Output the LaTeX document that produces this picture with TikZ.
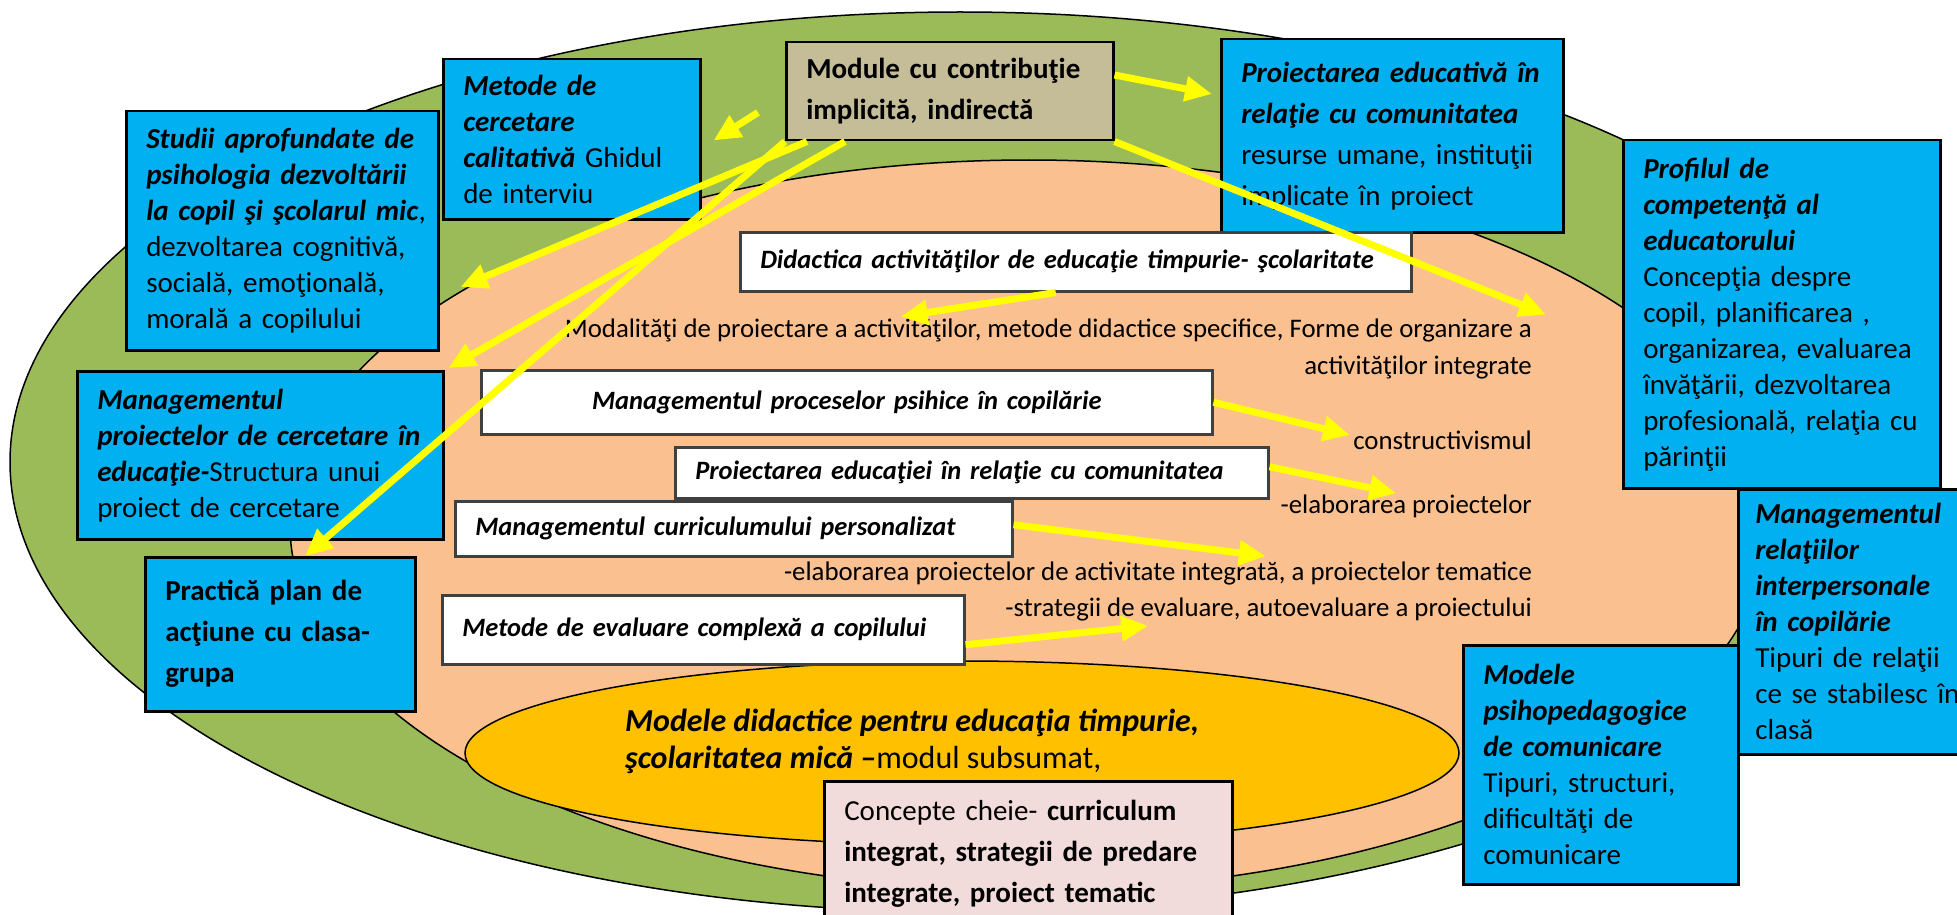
\documentclass[tikz,border=0pt]{standalone}
\usepackage{fontspec}
\setmainfont{Carlito}
\usetikzlibrary{calc}
\usetikzlibrary{arrows.meta}

\definecolor{outergreen}{HTML}{9BBB59}
\definecolor{innerorange}{HTML}{FAC090}
\definecolor{coreyellow}{HTML}{FFC000}
\definecolor{boxblue}{HTML}{00B0F0}
\definecolor{boxtan}{HTML}{C4BD97}
\definecolor{boxpink}{HTML}{F2DCDB}
\definecolor{boxgray}{HTML}{404040}
\definecolor{arrowyellow}{HTML}{FFFF00}

\newcommand{\bfit}[1]{\textbf{\textit{#1}}}

\tikzset{
  bluebox/.style={draw=black, line width=2.5pt, fill=boxblue, anchor=north west, align=left,
    inner xsep=20pt, inner ysep=0pt, font=\fontsize{29}{36}\selectfont},
  widebox/.style={bluebox, font=\fontsize{29}{41}\selectfont},
  whitebox/.style={draw=boxgray, line width=2.5pt, fill=white, anchor=north west, align=left,
    inner xsep=20pt, inner ysep=0pt, font=\fontsize{26.5}{33}\selectfont\bfseries\itshape},
  freetext/.style={anchor=east, align=right, inner sep=0pt, font=\fontsize{26.8}{37}\selectfont},
  yarrow/.style={draw=arrowyellow, line width=7pt, -{Triangle[length=27pt,width=24pt]}}
}

\begin{document}
\begin{tikzpicture}[x=1pt, y=-1pt]
\clip (0,0) rectangle (1957,915);

% the three rings
\draw[fill=outergreen, line width=1.5pt] (960,462) ellipse [x radius=950, y radius=450];
\draw[fill=innerorange, line width=1.5pt] (1029,525) ellipse [x radius=739, y radius=365];
\draw[fill=coreyellow, line width=1.5pt] (962,753) ellipse [x radius=497, y radius=92];
\node[anchor=west, align=left, inner sep=0pt, font=\fontsize{32}{37}\selectfont] (modeletext) at (625,741)
  {\bfit{Modele didactice pentru educaţia timpurie,}\\ \bfit{şcolaritatea mică –}modul subsumat,};

% outer modules
\node[bluebox, minimum height=160pt, text width=217pt] (metode) at (442,58)
  {\bfit{Metode de}\\ \bfit{cercetare}\\ \bfit{calitativă} Ghidul\\ de interviu};
\node[bluebox, minimum height=239pt, text width=272pt] (studii) at (125,110)
  {\bfit{Studii aprofundate de}\\ \bfit{psihologia dezvoltării}\\ \mbox{\bfit{la copil şi şcolarul mic},}\\ dezvoltarea cognitivă,\\ socială, emoţională,\\ morală a copilului};
\node[widebox, fill=boxtan, minimum height=98pt, text width=287pt] (module) at (785,41)
  {\textbf{Module cu contribuţie}\\ \textbf{implicită, indirectă}};
\node[widebox, minimum height=193pt, text width=302pt] (proieduc) at (1220,38)
  {\bfit{Proiectarea educativă în}\\ \bfit{relaţie cu comunitatea}\\ resurse umane, instituţii\\ implicate în proiect};
\node[bluebox, minimum height=348pt, text width=277pt] (profil) at (1622,139)
  {\bfit{Profilul de}\\ \bfit{competenţă al}\\ \bfit{educatorului}\\ Concepţia despre\\ copil, planificarea ,\\ organizarea, evaluarea\\ învăţării, dezvoltarea\\ profesională, relaţia cu\\ părinţii};
\node[bluebox, inner xsep=17pt, minimum height=265pt, text width=216pt] (relatii) at (1737,488)
  {\bfit{Managementul}\\ \bfit{relaţiilor}\\ \bfit{interpersonale}\\ \bfit{în copilărie}\\ Tipuri de relaţii\\ \mbox{ce se stabilesc în}\\ clasă};
\node[bluebox, minimum height=239pt, text width=235pt] (modpsih) at (1462,644)
  {\bfit{Modele}\\ \bfit{psihopedagogice}\\ \bfit{de comunicare}\\ Tipuri, structuri,\\ dificultăţi de\\ comunicare};
\node[bluebox, minimum height=168pt, text width=326pt] (mproiect) at (76,370)
  {\bfit{Managementul}\\ \mbox{\bfit{proiectelor de cercetare în}}\\ \bfit{educaţie-}Structura unui\\ proiect de cercetare};
\node[widebox, minimum height=154pt, text width=230pt] (practica) at (144,556)
  {\textbf{Practică plan de}\\ \textbf{acţiune cu clasa-}\\ \textbf{grupa}};
\node[widebox, fill=boxpink, minimum height=145pt, text width=368pt] (concepte) at (823,780)
  {Concepte cheie- \textbf{curriculum}\\ \textbf{integrat, strategii de predare}\\ \textbf{integrate, proiect tematic}};

% inner modules
\node[whitebox, minimum height=59pt, text width=631pt] (didactica) at (739,231)
  {Didactica activităţilor de educaţie timpurie- şcolaritate};
\node[whitebox, align=center, minimum height=64pt, text width=691pt] (procese) at (480,369)
  {Managementul proceselor psihice în copilărie};
\node[whitebox, minimum height=51pt, text width=553pt] (proiedu) at (674,446)
  {Proiectarea educaţiei în relaţie cu comunitatea};
\node[whitebox, minimum height=55pt, text width=517pt] (curric) at (454,500)
  {Managementul curriculumului personalizat};
\node[whitebox, minimum height=69pt, text width=482pt] (evaluare) at (441,594)
  {Metode de evaluare complexă a copilului\\[-6pt]};

% contents
\node[freetext] (modal) at (1532,349)
  {Modalităţi de proiectare a activităţilor, metode didactice specifice, Forme de organizare a\\ activităţilor integrate};
\node[freetext] (constr) at (1532,440) {constructivismul};
\node[freetext] (elab) at (1532,506) {-elaborarea proiectelor};
\node[freetext] (elabint) at (1532,573) {-elaborarea proiectelor de activitate integrată, a proiectelor tematice};
\node[freetext] (strateg) at (1532,609) {-strategii de evaluare, autoevaluare a proiectului};

% arrows
\draw[yarrow] ($(module.north east)+(0,34)$) -- ($(proieduc.north west)+(-8,56)$);
\draw[yarrow] (module.south east) -- ($(modal.north east)+(14,-4)$);
\draw[yarrow] ($(module.south west)+(-27,-29)$) -- ($(metode.south east)+(12,-80)$);
\draw[yarrow] ($(module.south west)+(22,0)$) -- ($(studii.north east)+(21,177)$);
\draw[yarrow] ($(module.south west)+(60,0)$) -- ($(mproiect.north east)+(4,-2)$);
\draw[yarrow] (module.south west) -- ($(practica.north)+(25,0)$);
\draw[yarrow] ($(didactica.south)+(-20,0)$) -- ($(modal.north west)+(336,-2)$);
\draw[yarrow] (procese.east) -- ($(constr.west)+(-3,-5)$);
\draw[yarrow] ($(proiedu.east)+(0,-6)$) -- ($(elab.north west)+(116,-1)$);
\draw[yarrow] ($(curric.east)+(0,-4)$) -- ($(elabint.north west)+(482,-5)$);
\draw[yarrow] ($(evaluare.east)+(0,15)$) -- ($(strateg.south west)+(143,5)$);
\end{tikzpicture}
\end{document}
